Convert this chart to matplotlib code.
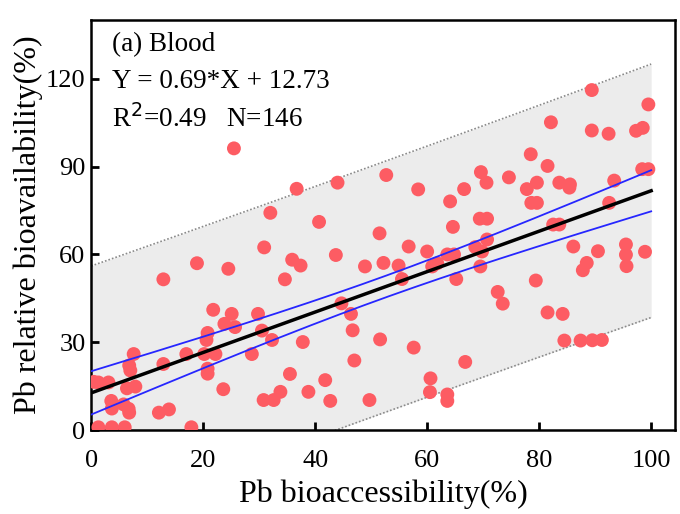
import numpy as np
import matplotlib.pyplot as plt

plt.rcParams['font.family'] = ['Liberation Serif', 'DejaVu Serif']

# Data (Pb bioaccessibility %, Pb relative bioavailability %)
bioacc = [1.3, 3.7, 6.0, 17.9,
          0.5, 1.3, 3.1, 3.6, 3.7, 5.8, 6.7, 6.8, 6.4, 7.9, 6.8, 7.0, 7.6,
          12.1, 13.9, 12.9, 12.9, 17.0, 18.9, 20.2, 22.2, 20.8, 20.8, 20.8, 20.6,
          21.8, 23.6, 23.8, 25.1, 25.7, 24.5, 25.5, 28.7, 29.8, 30.5, 30.9, 30.8,
          32.6, 33.8, 32.3, 32.0, 34.6, 35.5, 35.9, 37.4, 36.7, 37.8, 38.8, 40.7,
          41.8, 42.7, 43.7, 44.0, 44.7, 46.4, 46.7, 47.0, 48.9, 49.7, 51.5, 51.6,
          52.2, 52.7, 54.9, 55.5, 56.7, 57.6, 58.4, 60.0, 60.6, 60.5, 60.9, 61.8,
          63.6, 63.6, 63.6, 64.8, 64.1, 64.6, 65.2, 66.6, 66.8, 68.6, 69.8, 69.5,
          69.6, 70.6, 69.4, 70.7, 70.7, 72.6, 73.5, 74.6, 77.8, 78.5, 78.6, 79.6,
          79.6, 79.4, 81.5, 81.5, 82.1, 82.5, 83.6, 83.6, 85.5, 85.4, 84.2, 84.5,
          86.1, 87.4, 89.5, 91.2, 88.5, 87.8, 89.4, 89.4, 92.4, 90.5, 92.5, 93.4,
          95.5, 95.5, 95.6, 97.3, 98.5, 98.4, 99.5, 99.5, 98.9]
bioavail = [1.0, 1.0, 1.0, 1.0,
            16.5, 16.3, 16.3, 10.0, 7.4, 8.8, 7.3, 6.0, 14.3, 14.9, 22.1, 20.4, 26.0,
            6.0, 7.1, 22.6, 51.5, 26.0, 57.0, 26.0, 26.0, 21.0, 19.3, 33.2, 30.8,
            41.1, 14.0, 36.3, 39.7, 35.2, 55.1, 96.2, 26.0, 39.7, 34.0, 62.4, 10.3,
            10.3, 13.1, 30.8, 74.2, 51.5, 19.2, 58.2, 56.2, 82.4, 30.1, 13.1, 71.1,
            17.1, 10.0, 59.8, 84.5, 43.3, 39.7, 34.1, 23.8, 55.9, 10.3, 67.2, 31.0,
            57.1, 87.1, 56.2, 51.6, 62.7, 28.2, 82.2, 61.0, 17.7, 13.0, 55.9, 57.0,
            12.2, 10.0, 60.0, 60.0, 78.1, 69.4, 51.6, 82.3, 23.3, 62.5, 61.0, 55.9,
            88.1, 84.5, 72.2, 72.2, 65.1, 47.2, 43.2, 86.3, 82.3, 94.2, 77.6, 77.6,
            84.5, 51.1, 90.2, 40.2, 105.1, 70.2, 70.2, 84.5, 83.9, 82.8, 39.7, 30.6,
            62.7, 30.6, 30.7, 30.8, 57.1, 54.6, 116.1, 102.3, 101.2, 61.1, 77.6, 85.2,
            63.4, 59.9, 56.0, 102.2, 103.2, 89.1, 89.1, 111.2, 60.9]

slope = 0.69
intercept = 12.73
r2_text = "0.49"
n_text = "146"
t95 = 1.977

x = np.array(bioacc)
y = np.array(bioavail)
n = len(x)
resid = y - (slope * x + intercept)
s = np.sqrt(np.sum(resid ** 2) / (n - 2))
xm = x.mean()
sxx = np.sum((x - xm) ** 2)

xf = np.linspace(0, 100, 200)
yf = slope * xf + intercept
ci = t95 * s * np.sqrt(1 / n + (xf - xm) ** 2 / sxx)
pi = t95 * s * np.sqrt(1 + 1 / n + (xf - xm) ** 2 / sxx)

fig = plt.figure(figsize=(6.8, 5.14), dpi=100)
ax = fig.add_axes([0.134, 0.163, 0.859, 0.798])

# prediction band
ax.fill_between(xf, yf - pi, yf + pi, color='#ececec', lw=0, zorder=1)
ax.plot(xf, yf + pi, color='#8a8a8a', ls=(0, (1, 1.2)), lw=1.2, zorder=2)
ax.plot(xf, yf - pi, color='#8a8a8a', ls=(0, (1, 1.2)), lw=1.2, zorder=2)

# points
ax.scatter(x, y, s=100, color='#fd5c63', edgecolors='none', zorder=3)

# fit and confidence band
ax.plot(xf, yf, color='black', lw=2.5, zorder=4)
ax.plot(xf, yf + ci, color='#2626ff', lw=1.3, zorder=4)
ax.plot(xf, yf - ci, color='#2626ff', lw=1.3, zorder=4)

ax.set_xlim(0, 104.3)
ax.set_ylim(0, 140)
ax.set_xticks([0, 20, 40, 60, 80, 100])
ax.set_yticks([0, 30, 60, 90, 120])
ax.tick_params(direction='in', length=6, width=2, labelsize=19,
               top=False, right=False)
ax.tick_params(axis='x', pad=14)
ax.tick_params(axis='y', pad=4)
for sp in ax.spines.values():
    sp.set_linewidth(1.8)

ax.set_xlabel('Pb bioaccessibility(%)', fontsize=23, labelpad=6)
ax.set_ylabel('Pb relative bioavailability(%)', fontsize=23, labelpad=2)

ax.text(0.035, 0.97, '(a) Blood', transform=ax.transAxes, fontsize=19.5, va='top')
ax.text(0.035, 0.88, f'Y = {slope}*X + {intercept}', transform=ax.transAxes,
        fontsize=19.5, va='top')
ax.text(0.035, 0.795, f'R$^2$={r2_text}   N={n_text}', transform=ax.transAxes,
        fontsize=19.5, va='top')

plt.savefig('out.png', dpi=100)
